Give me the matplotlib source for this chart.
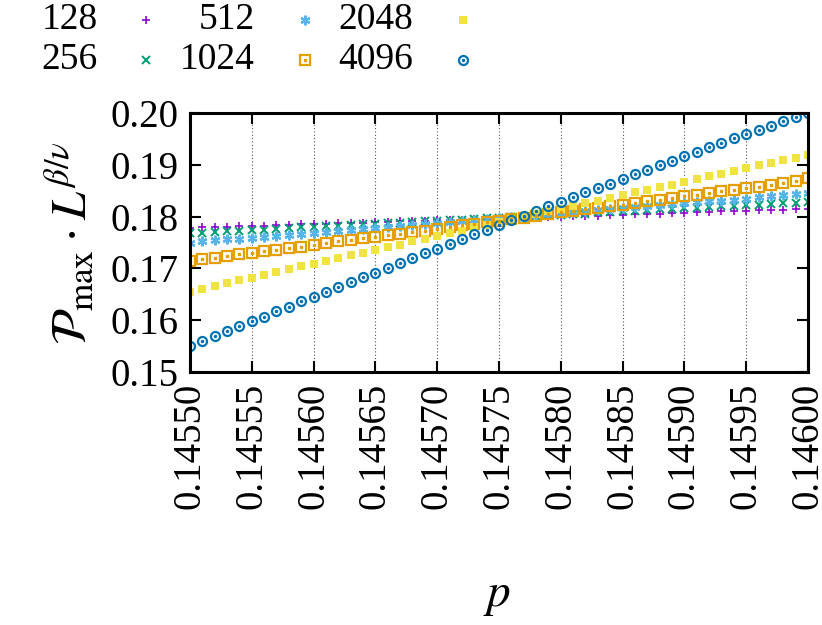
import numpy as np
import matplotlib
matplotlib.use("Agg")
import matplotlib.pyplot as plt
from matplotlib.lines import Line2D

plt.rcParams["font.family"] = "Liberation Serif"
plt.rcParams["mathtext.fontset"] = "stix"

p = [0.14550 + 0.00001 * i for i in range(51)]
p = [round(v, 5) for v in p]

y128 = [0.1778,0.1779,0.1779,0.1780,0.1781,0.1782,0.1782,0.1783,0.1784,0.1785,0.1785,0.1786,0.1787,0.1788,0.1788,0.1789,0.1790,0.1791,0.1791,0.1792,0.1793,0.1793,0.1794,0.1795,0.1796,0.1796,0.1797,0.1798,0.1799,0.1799,0.1800,0.1801,0.1802,0.1802,0.1803,0.1804,0.1805,0.1805,0.1806,0.1807,0.1807,0.1808,0.1809,0.1810,0.1810,0.1811,0.1812,0.1813,0.1813,0.1814,0.1815]
y256 = [0.1768,0.1769,0.1770,0.1772,0.1773,0.1774,0.1775,0.1776,0.1778,0.1779,0.1780,0.1781,0.1782,0.1784,0.1785,0.1786,0.1787,0.1788,0.1790,0.1791,0.1792,0.1793,0.1794,0.1796,0.1797,0.1798,0.1799,0.1800,0.1802,0.1803,0.1804,0.1805,0.1806,0.1808,0.1809,0.1810,0.1811,0.1812,0.1814,0.1815,0.1816,0.1817,0.1818,0.1820,0.1821,0.1822,0.1823,0.1824,0.1826,0.1827,0.1828]
y512 = [0.1750,0.1752,0.1754,0.1756,0.1757,0.1759,0.1761,0.1763,0.1765,0.1767,0.1769,0.1771,0.1773,0.1775,0.1776,0.1778,0.1780,0.1782,0.1784,0.1786,0.1788,0.1790,0.1792,0.1793,0.1795,0.1797,0.1799,0.1801,0.1803,0.1805,0.1807,0.1809,0.1810,0.1812,0.1814,0.1816,0.1818,0.1820,0.1822,0.1824,0.1826,0.1828,0.1830,0.1831,0.1833,0.1835,0.1837,0.1839,0.1841,0.1843,0.1845]
y1024 = [0.1715,0.1718,0.1721,0.1724,0.1727,0.1730,0.1733,0.1736,0.1739,0.1742,0.1746,0.1749,0.1752,0.1755,0.1758,0.1761,0.1764,0.1767,0.1770,0.1773,0.1777,0.1780,0.1783,0.1786,0.1789,0.1792,0.1795,0.1798,0.1801,0.1805,0.1808,0.1811,0.1814,0.1817,0.1820,0.1823,0.1827,0.1830,0.1833,0.1836,0.1839,0.1842,0.1846,0.1849,0.1852,0.1855,0.1858,0.1862,0.1865,0.1869,0.1874]
y2048 = [0.1655,0.1660,0.1666,0.1671,0.1677,0.1682,0.1687,0.1693,0.1698,0.1704,0.1709,0.1714,0.1720,0.1725,0.1730,0.1736,0.1741,0.1746,0.1752,0.1757,0.1763,0.1768,0.1773,0.1779,0.1784,0.1789,0.1795,0.1800,0.1805,0.1810,0.1815,0.1821,0.1826,0.1831,0.1836,0.1841,0.1847,0.1852,0.1857,0.1862,0.1867,0.1873,0.1878,0.1883,0.1888,0.1893,0.1899,0.1904,0.1909,0.1914,0.1920]
y4096 = [0.1550,0.1560,0.1569,0.1579,0.1588,0.1598,0.1607,0.1617,0.1626,0.1636,0.1645,0.1655,0.1664,0.1673,0.1683,0.1692,0.1701,0.1711,0.1720,0.1729,0.1738,0.1748,0.1757,0.1766,0.1775,0.1784,0.1793,0.1802,0.1811,0.1820,0.1829,0.1838,0.1847,0.1856,0.1864,0.1873,0.1882,0.1891,0.1899,0.1908,0.1917,0.1925,0.1934,0.1942,0.1951,0.1959,0.1968,0.1976,0.1984,0.1992,0.2000]

labels = ["128", "256", "512", "1024", "2048", "4096"]
xticks = [0.14550,0.14555,0.14560,0.14565,0.14570,0.14575,0.14580,0.14585,0.14590,0.14595,0.14600]
yticks = [0.15,0.16,0.17,0.18,0.19,0.20]

fig = plt.figure(figsize=(8.22, 6.25), dpi=100)
ax = fig.add_axes([0.231, 0.405, 0.752, 0.414])

styles = [
    dict(marker="+", color="#9400d3", ms=6, mew=1.2, mfc="none"),
    dict(marker="x", color="#009e73", ms=6, mew=1.4, mfc="none"),
    dict(marker=(6, 2, 0), color="#56b4e9", ms=7, mew=1.6, mfc="none"),
    dict(marker="s", color="#e69f00", ms=7, mew=1.6, mfc="none"),
    dict(marker="s", color="#f0e442", ms=6, mew=0, mfc="#f0e442"),
    dict(marker="o", color="#0072b2", ms=6.5, mew=1.6, mfc="none"),
]
series = [y128, y256, y512, y1024, y2048, y4096]
for ys, lab, st in zip(series, labels, styles):
    ax.plot(p, ys, linestyle="none", label=lab, **st)
ax.plot(p, y1024, linestyle="none", marker="s", ms=1.5, color="#e69f00")
ax.plot(p, y4096, linestyle="none", marker="o", ms=1.5, color="#0072b2")

ax.set_xlim(0.14550, 0.14600)
ax.set_ylim(0.15, 0.20)
ax.set_xticks(xticks)
ax.set_xticklabels([f"{t:.5f}" for t in xticks], rotation=90)
ax.set_yticks(yticks)
ax.set_yticklabels([f"{t:.2f}" for t in yticks])
ax.tick_params(direction="in", length=8, width=1.5, labelsize=28, top=True, right=True, pad=8)
ax.grid(axis="x", linestyle=(0, (1, 2)), color="#555555", linewidth=0.8)
for s in ax.spines.values():
    s.set_linewidth(2.2)

ax.set_ylabel(r"$\mathcal{P}_{\max}\cdot L^{\beta/\nu}$", fontsize=36, labelpad=10)
fig.text(0.605, 0.03, r"$p$", fontsize=34, ha="center")

# manual legend, 3 columns x 2 rows, label right-aligned then marker
text_x = [98, 255, 413]
mark_x = [146, 305, 463]
row_y = [20, 60]
for i, (lab, st) in enumerate(zip(labels, styles)):
    col, row = divmod(i, 2)
    yf = 1 - row_y[row] / 625
    fig.text(text_x[col] / 822, yf, lab, fontsize=27, ha="right", va="center")
    fig.add_artist(Line2D([mark_x[col] / 822], [yf], transform=fig.transFigure,
                          linestyle="none", **st))
    if i in (3, 5):
        fig.add_artist(Line2D([mark_x[col] / 822], [yf], transform=fig.transFigure,
                              linestyle="none", marker=st["marker"], ms=1.5, color=st["color"]))

fig.savefig("out.png", dpi=100)
